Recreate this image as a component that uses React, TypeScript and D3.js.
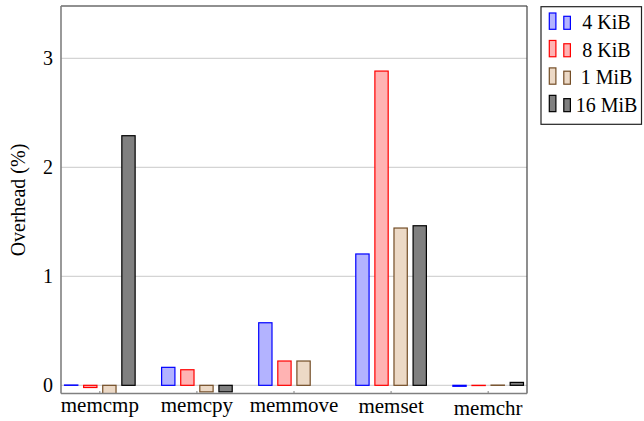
import React from "react";
import * as d3 from "d3";

const categories = ["memcmp", "memcpy", "memmove", "memset", "memchr"];
const seriesNames = ["4 KiB", "8 KiB", "1 MiB", "16 MiB"];
const kib4: (number | null)[] = [0.003, 0.165, 0.574, 1.205, -0.009];
const kib8: (number | null)[] = [-0.02, 0.143, 0.223, 2.883, -0.002];
const mib1: (number | null)[] = [-0.08, -0.06, 0.223, 1.443, 0.002];
const mib16: (number | null)[] = [2.29, -0.06, null, 1.464, 0.027];
const yTicks = [0, 1, 2, 3];

const seriesValues = [kib4, kib8, mib1, mib16];
const strokes = ["#0000ff", "#ff0000", "#734d26", "#000000"];
const fills = ["#b3b3ff", "#ffb3b3", "#ecd9c6", "#808080"];

const W = 644;
const H = 421;
const left = 61;
const right = 527;
const top = 6;
const bottom = 393.5;
const FONT = "Liberation Serif, DejaVu Serif, serif";

export default function App() {
  const x = d3.scaleLinear().domain([-0.4, categories.length - 0.6]).range([left, right]);
  const y = d3.scaleLinear().domain([-0.075, 3.48]).range([bottom, top]);
  const barW = 14.5;
  const pitch = 19.1;
  const nS = seriesValues.length;

  const labelTop = 401.5;
  const textHeight = (s: string) => (/[bdfhklA-Z]/.test(s) ? 13.5 : /t/.test(s) ? 11.8 : 10.2);

  return (
    <svg width={W} height={H} style={{ position: "absolute", left: 0, top: 0, fontFamily: FONT }}>
      <defs>
        <clipPath id="plotclip">
          <rect x={left} y={top} width={right - left} height={bottom - top} />
        </clipPath>
      </defs>
      <rect x={0} y={0} width={W} height={H} fill="#fff" />
      {yTicks.map((t) => (
        <line key={"g" + t} x1={left} x2={right} y1={y(t)} y2={y(t)} stroke="#d4d4d4" strokeWidth={1.2} />
      ))}
      <g clipPath="url(#plotclip)">
        {seriesValues.map((vals, si) =>
          vals.map((v, ci) => {
            if (v === null) return null;
            const cx = x(ci) + (si - (nS - 1) / 2) * pitch;
            const y0 = y(0);
            const y1 = y(v);
            return (
              <rect
                key={si + "-" + ci}
                x={cx - barW / 2 + 0.6}
                y={Math.min(y0, y1)}
                width={barW - 1.2}
                height={Math.max(0.2, Math.abs(y1 - y0))}
                fill={fills[si]}
                stroke={strokes[si]}
                strokeWidth={1.2}
              />
            );
          })
        )}
      </g>
      <line x1={left} x2={right} y1={top} y2={top} stroke="#222" strokeWidth={1.2} />
      <line x1={right} x2={right} y1={top} y2={bottom} stroke="#444" strokeWidth={1.2} />
      <line x1={left} x2={left} y1={top} y2={bottom} stroke="#808080" strokeWidth={1.6} />
      <line x1={left} x2={right} y1={bottom} y2={bottom} stroke="#808080" strokeWidth={1.6} />
      {categories.map((c, i) => (
        <line key={"xt" + i} x1={x(i)} x2={x(i)} y1={bottom} y2={bottom - 2.5} stroke="#808080" strokeWidth={1} />
      ))}
      {yTicks.map((t) => (
        <text key={"yl" + t} x={53} y={y(t) + 6.7} textAnchor="end" fontSize={20} fill="#000">
          {t}
        </text>
      ))}
      {categories.map((c, i) => (
        <text key={"xl" + i} x={x(i)} y={labelTop + textHeight(c)} textAnchor="middle" fontSize={21} fill="#000">
          {c}
        </text>
      ))}
      <text transform={`translate(25,200) rotate(-90)`} textAnchor="middle" fontSize={20} fill="#000">
        Overhead (%)
      </text>
      <rect x={541} y={6.7} width={100.5} height={117.6} fill="#fff" stroke="#222" strokeWidth={1.2} />
      {seriesNames.map((n, i) => {
        const base = 29.3 + i * 27.45;
        return (
          <g key={"lg" + i}>
            <rect x={549.3} y={base - 16.3} width={6.6} height={16.3} fill={fills[i]} stroke={strokes[i]} strokeWidth={1.2} />
            <rect x={563.8} y={base - 13} width={6.6} height={13} fill={fills[i]} stroke={strokes[i]} strokeWidth={1.2} />
            <text x={606.5} y={base} textAnchor="middle" fontSize={20} fill="#000">
              {n}
            </text>
          </g>
        );
      })}
    </svg>
  );
}
